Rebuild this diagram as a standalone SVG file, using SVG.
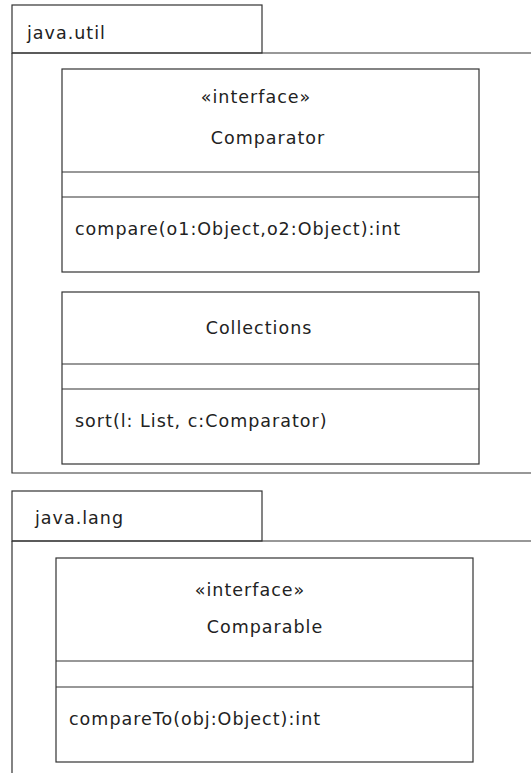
<svg xmlns="http://www.w3.org/2000/svg" width="531" height="773" viewBox="0 0 531 773">
<style>
.ln{fill:none;stroke:#333;stroke-width:1.2}
.bx{fill:#fff;stroke:#333;stroke-width:1.2}
text{font-family:"DejaVu Sans","Noto Sans",sans-serif;font-size:17.5px;letter-spacing:1px;fill:#222}
.c{text-anchor:middle}
</style>
<rect width="531" height="773" fill="#fff"/>
<g id="pkg-java-util">
<rect class="bx" x="12" y="5" width="250" height="48"/>
<text x="27" y="39">java.util</text>
<path class="ln" d="M12,53 H531 M12,53 V473 H531"/>
</g>
<g id="comparator">
<rect class="bx" x="62" y="69" width="417" height="203"/>
<path class="ln" d="M62,172 H479 M62,197 H479"/>
<text class="c" x="256" y="103">«interface»</text>
<text class="c" x="268" y="144">Comparator</text>
<text x="75" y="235">compare(o1:Object,o2:Object):int</text>
</g>
<g id="collections">
<rect class="bx" x="62" y="292" width="417" height="172"/>
<path class="ln" d="M62,364 H479 M62,389 H479"/>
<text class="c" x="259" y="334">Collections</text>
<text x="75" y="427">sort(l: List, c:Comparator)</text>
</g>
<g id="pkg-java-lang">
<rect class="bx" x="12" y="491" width="250" height="50"/>
<text x="35" y="524">java.lang</text>
<path class="ln" d="M12,541 H531 M12,541 V773"/>
</g>
<g id="comparable">
<rect class="bx" x="56" y="558" width="417" height="204"/>
<path class="ln" d="M56,661 H473 M56,687 H473"/>
<text class="c" x="250" y="596">«interface»</text>
<text class="c" x="265" y="633">Comparable</text>
<text x="69" y="725">compareTo(obj:Object):int</text>
</g>
<g id="connectors"/>
</svg>
